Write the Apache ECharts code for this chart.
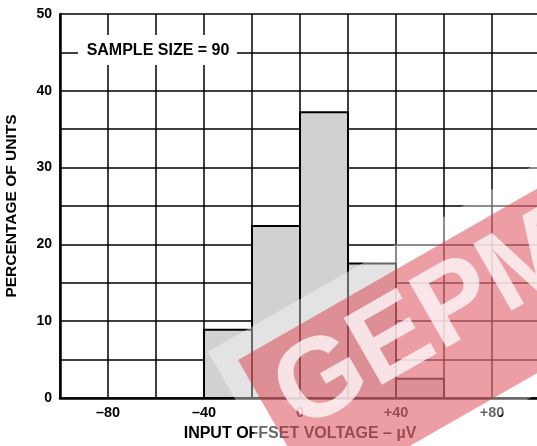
<!DOCTYPE html>
<html>
<head>
<meta charset="utf-8">
<script src="https://cdn.jsdelivr.net/npm/echarts@6/dist/echarts.min.js"></script>
<style>
  html, body { margin: 0; padding: 0; background: #fff; }
  #chart { width: 537px; height: 446px; }
</style>
</head>
<body>
<div id="chart"></div>
<script>
// histogram bins (µV) and percentage of units
var binStart = [-40, -20, 0, 20, 40]
var binEnd = [-20, 0, 20, 40, 60]
var percent = [8.9, 22.4, 37.2, 17.5, 2.5]
var xTickLabels = { '-80': '–80', '-40': '–40', '0': '0', '40': '+40', '80': '+80' }
var yTickLabels = [0, 10, 20, 30, 40, 50]

var font = 'Liberation Sans, Arial, sans-serif'
var chart = echarts.init(document.getElementById('chart'))

var bins = binStart.map(function (s, i) {
  return [s, binEnd[i], percent[i]]
})

chart.setOption({
  animation: false,
  grid: { left: 60, right: -3, top: 14, bottom: 48, containLabel: false, outerBoundsMode: 'none' },
  xAxis: {
    type: 'value',
    min: -100,
    max: 100,
    interval: 20,
    name: 'INPUT OFFSET VOLTAGE – µV',
    nameLocation: 'middle',
    nameGap: 28,
    nameTextStyle: { fontFamily: font, fontWeight: 'bold', fontSize: 16, color: '#000' },
    axisLine: { lineStyle: { color: '#000', width: 2.5 } },
    axisTick: { show: false },
    axisLabel: {
      fontFamily: font, fontWeight: 'bold', fontSize: 14.5, color: '#000', margin: 7,
      formatter: function (v) { return xTickLabels[String(v)] || '' }
    },
    splitLine: { lineStyle: { color: '#000', width: 1.5 } }
  },
  yAxis: {
    type: 'value',
    min: 0,
    max: 50,
    interval: 5,
    name: 'PERCENTAGE OF UNITS',
    nameLocation: 'middle',
    nameGap: 40,
    nameTextStyle: { fontFamily: font, fontWeight: 'bold', fontSize: 15.5, color: '#000' },
    axisLine: { show: true, onZero: false, lineStyle: { color: '#000', width: 2.5 } },
    axisTick: { show: false },
    axisLabel: {
      fontFamily: font, fontWeight: 'bold', fontSize: 14, color: '#000', margin: 8,
      formatter: function (v) { return yTickLabels.indexOf(v) >= 0 ? String(v) : '' }
    },
    splitLine: { lineStyle: { color: '#000', width: 1.5 } }
  },
  series: [{
    type: 'custom',
    renderItem: function (params, api) {
      var p0 = api.coord([api.value(0), 0])
      var p1 = api.coord([api.value(1), api.value(2)])
      return {
        type: 'rect',
        shape: { x: p0[0], y: p1[1], width: p1[0] - p0[0], height: p0[1] - p1[1] },
        style: { fill: '#d1d1d1', stroke: '#000', lineWidth: 2 }
      }
    },
    encode: { x: [0, 1], y: 2 },
    data: bins
  }],
  graphic: [
    {
      type: 'rect',
      z: 100,
      shape: { x: 78, y: 35, width: 159, height: 30 },
      style: { fill: '#fff' }
    },
    {
      type: 'text',
      z: 101,
      x: 158,
      y: 51,
      style: {
        text: 'SAMPLE SIZE = 90',
        fontFamily: font, fontWeight: 'bold', fontSize: 16, fill: '#000',
        align: 'center', verticalAlign: 'middle'
      }
    },
    // watermark
    {
      type: 'group',
      z: 110,
      x: 238,
      y: 360,
      rotation: 0.52,
      children: [
        {
          type: 'rect',
          z: 110,
          shape: { x: -22, y: -22, width: 500, height: 200 },
          style: { fill: 'rgba(255,255,255,0.4)' }
        },
        {
          type: 'rect',
          z: 111,
          shape: { x: 0, y: 0, width: 460, height: 160 },
          style: { fill: 'rgba(215,40,55,0.45)' }
        },
        {
          type: 'text',
          z: 112,
          x: 18,
          y: 62,
          style: {
            text: 'GEPM',
            fontFamily: font, fontWeight: 'bold', fontSize: 112,
            fill: 'rgba(255,255,255,0.75)', align: 'left', verticalAlign: 'middle'
          }
        }
      ]
    }
  ]
})
</script>
</body>
</html>
